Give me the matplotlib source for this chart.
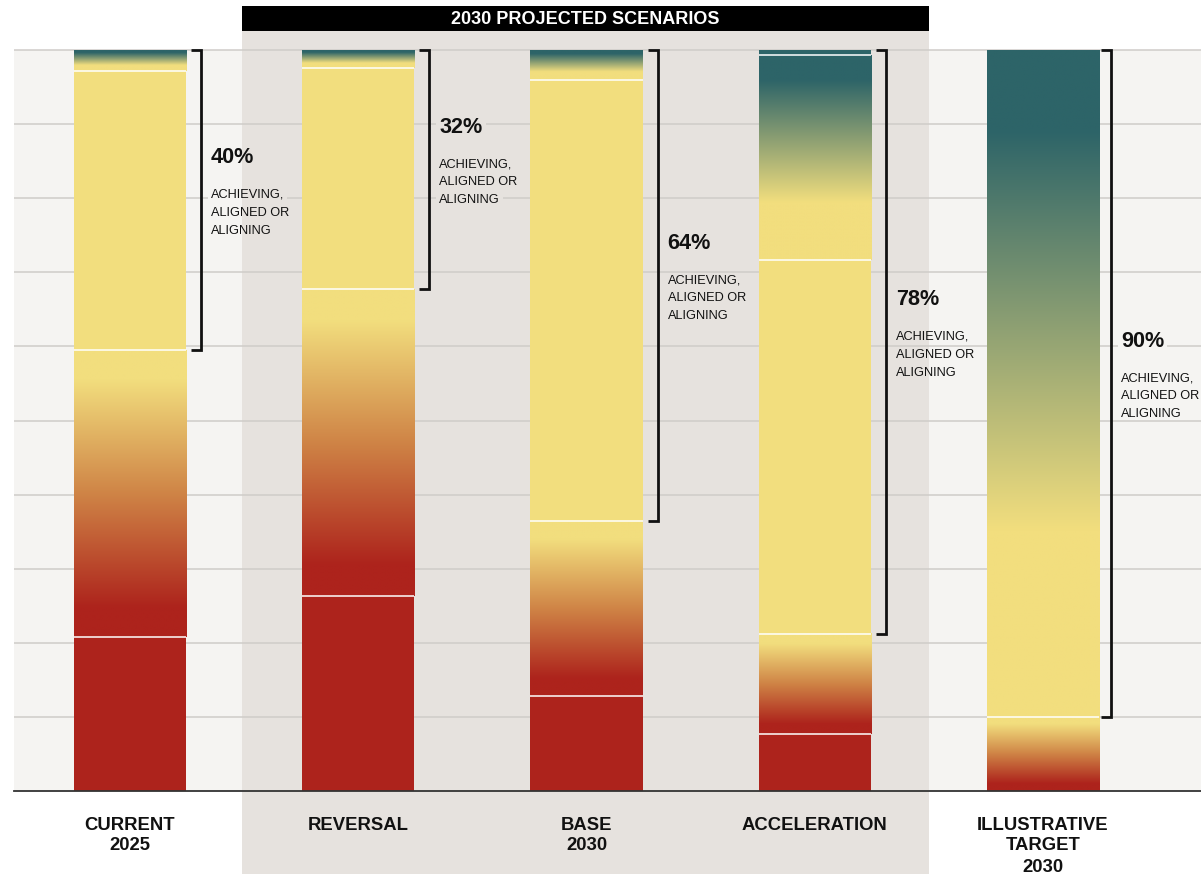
import numpy as np
import matplotlib
matplotlib.use("Agg")
import matplotlib.pyplot as plt
from matplotlib.colors import LinearSegmentedColormap
from matplotlib.patches import Rectangle
from matplotlib.lines import Line2D
import matplotlib.transforms as mtransforms

# ---------------- data ----------------
categories = ["CURRENT\n2025", "REVERSAL", "BASE\n2030", "ACCELERATION",
              "ILLUSTRATIVE\nTARGET\n2030"]
severely_misaligned = [20.8, 26.3, 12.8, 7.7, 0.0]
misaligned = [38.7, 41.4, 23.6, 13.5, 10.0]
aligning = [37.7, 29.9, 59.6, 50.5, 0.0]
aligned = [2.8, 2.4, 4.0, 27.6, 90.0]
achieving = [0.0, 0.0, 0.0, 0.7, 0.0]
share_labels = ["40%", "32%", "64%", "78%", "90%"]
share_caption = "ACHIEVING,\nALIGNED OR\nALIGNING"
scenario_header = "2030 PROJECTED SCENARIOS"
scenario_first, scenario_last = 1, 3
y_ticks = [0, 10, 20, 30, 40, 50, 60, 70, 80, 90, 100]

# ---------------- style ----------------
RED = "#ad231c"
ORANGE = "#cf8446"
YELLOW = "#f2de7e"
TEAL = "#2d6468"
LIGHT_BG = "#f5f4f2"
SHADE_BG = "#e6e2de"
GRID = "#cfccc9"
INK = "#111111"
FONT = ["Liberation Sans", "DejaVu Sans"]
plt.rcParams["font.family"] = FONT

W, H = 1201, 874
fig = plt.figure(figsize=(W / 100, H / 100), dpi=100)
fig.patch.set_facecolor("white")
ax = fig.add_axes([14 / W, (H - 791) / H, (W - 14) / W, (791 - 50) / H])
ax.set_facecolor(LIGHT_BG)
for s in ax.spines.values():
    s.set_visible(False)
ax.set_xticks([])
ax.set_yticks([])

n = len(categories)
x = np.arange(n)
bw = 0.4907
xlim = (-0.5082, 4.6922)
ylim = (0, 100)
PX = (xlim[1] - xlim[0]) / (W - 14)  # data-x per pixel
PT = 0.72  # points per pixel

mis_cmap = LinearSegmentedColormap.from_list(
    "mis", [(0, RED), (0.1, RED), (0.5, ORANGE), (0.9, YELLOW), (1, YELLOW)])
ali_cmap = LinearSegmentedColormap.from_list(
    "ali", [(0, YELLOW), (0.28, YELLOW), (0.88, TEAL), (1, TEAL)])

# shaded scenario band (extends below axis to figure bottom)
blend = mtransforms.blended_transform_factory(ax.transData, fig.transFigure)
sx0 = (x[scenario_first - 1] + x[scenario_first]) / 2 - 0.01
sx1 = (x[scenario_last] + x[scenario_last + 1]) / 2
ax.add_patch(Rectangle((sx0, 0), sx1 - sx0, (H - 31) / H, transform=blend,
                       facecolor=SHADE_BG, edgecolor="none", clip_on=False, zorder=0.2))
ax.add_patch(Rectangle((sx0, (H - 31) / H), sx1 - sx0, 25 / H, transform=blend,
                       facecolor="black", edgecolor="none", clip_on=False, zorder=0.3))
ax.text((sx0 + sx1) / 2, (H - 24.5) / H, scenario_header, transform=blend,
        ha="center", va="baseline", color="white", fontsize=13,
        fontweight="bold", zorder=5)

# bars
layers = [(severely_misaligned, RED), (misaligned, mis_cmap), (aligning, YELLOW),
          (aligned, ali_cmap), (achieving, TEAL)]
grad = np.linspace(0, 1, 256).reshape(-1, 1)
for i in range(n):
    bottom = 0.0
    bounds = []
    for vals, style in layers:
        v = vals[i]
        if v <= 0:
            continue
        if isinstance(style, str):
            ax.bar(x[i], v, bw, bottom=bottom, color=style, linewidth=0, zorder=2)
        else:
            ax.imshow(grad, cmap=style, origin="lower", aspect="auto",
                      interpolation="bilinear",
                      extent=(x[i] - bw / 2, x[i] + bw / 2, bottom, bottom + v),
                      zorder=2)
        bottom += v
        bounds.append(bottom)
    for b in bounds[:-1]:
        ax.hlines(b, x[i] - bw / 2, x[i] + bw / 2, color="white", lw=1.1, zorder=3)

ax.set_xlim(*xlim)
ax.set_ylim(*ylim)

# brackets + labels
label_texts = []
for i in range(n):
    top = 100.0
    bot = severely_misaligned[i] + misaligned[i]
    right = x[i] + bw / 2
    off_b = 15 if i < n - 1 else 12
    off_t = 25 if i < n - 1 else 22
    xv = right + off_b * PX
    ax.add_line(Line2D([xv - 10 * PX, xv, xv, xv - 10 * PX], [top, top, bot, bot],
                       color=INK, lw=2.0, solid_joinstyle="miter",
                       solid_capstyle="butt", clip_on=False, zorder=4))
    cy = (top + bot) / 2
    xt = right + off_t * PX
    t = ax.annotate(share_labels[i], xy=(xt, cy), xytext=(0, 36.7 * PT),
                    textcoords="offset points", ha="left", va="baseline",
                    fontsize=15.6, fontweight="bold", color=INK, zorder=5)
    label_texts.append(t)
    for k, line in enumerate(share_caption.split("\n")):
        t = ax.annotate(line, xy=(xt, cy), xytext=(0, (2.3 - 18 * k) * PT),
                        textcoords="offset points", ha="left", va="baseline",
                        fontsize=9.2, color=INK, zorder=5)
        label_texts.append(t)

# category labels
for i, cat in enumerate(categories):
    for k, line in enumerate(cat.split("\n")):
        ax.annotate(line, xy=(x[i], 0), xytext=(0, -(38.5 + 21 * k) * PT),
                    textcoords="offset points", ha="center", va="baseline",
                    fontsize=13.3, fontweight="bold", color=INK,
                    annotation_clip=False, zorder=5)

# gridlines, broken behind label text
fig.canvas.draw()
renderer = fig.canvas.get_renderer()
inv = ax.transData.inverted()
boxes = []
for t in label_texts:
    bb = t.get_window_extent(renderer)
    (x0, y0), (x1, y1) = inv.transform([(bb.x0 - 3, bb.y0), (bb.x1 + 3, bb.y1)])
    boxes.append((x0, x1, y0, y1))

for yv in y_ticks[1:]:
    segs = [(xlim[0], xlim[1])]
    for (bx0, bx1, by0, by1) in boxes:
        if by0 <= yv <= by1:
            new = []
            for a, b in segs:
                if bx1 <= a or bx0 >= b:
                    new.append((a, b))
                else:
                    if a < bx0:
                        new.append((a, bx0))
                    if bx1 < b:
                        new.append((bx1, b))
            segs = new
    for a, b in segs:
        ax.hlines(yv, a, b, color=GRID, lw=1.1, zorder=0.5, clip_on=False)

ax.axhline(0, color="#333333", lw=1.3, zorder=4, clip_on=False)

fig.savefig("out.png", dpi=100, facecolor="white")
